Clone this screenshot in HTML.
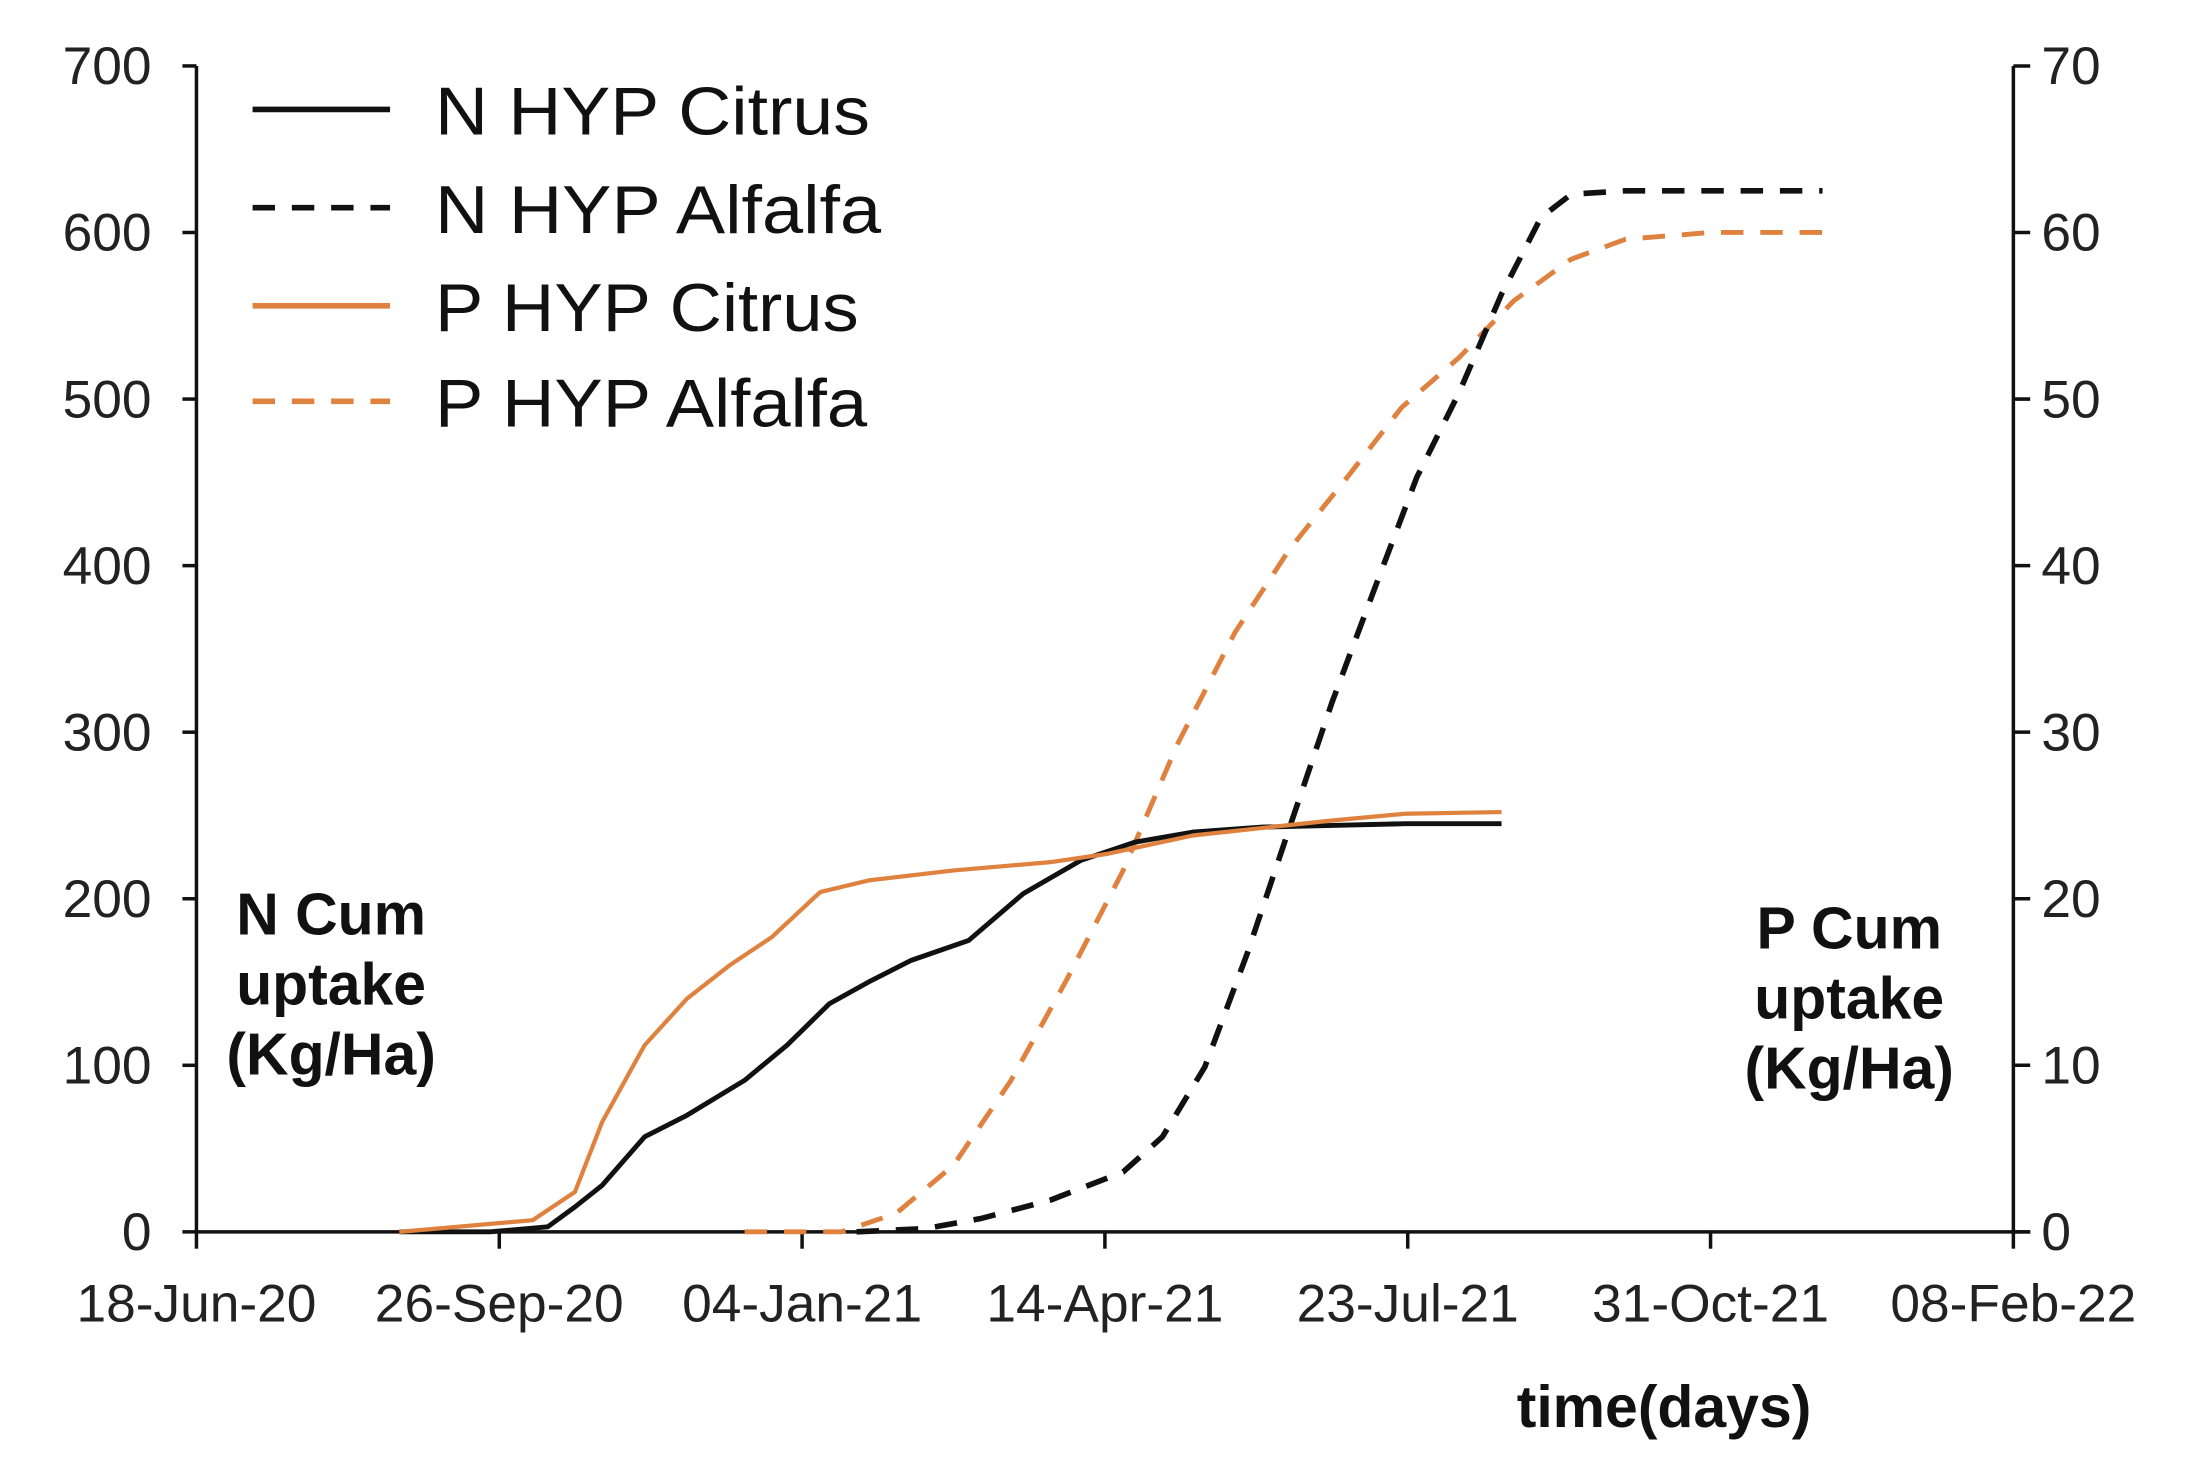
<!DOCTYPE html>
<html><head><meta charset="utf-8"><style>
html,body{margin:0;padding:0;background:#fff;}
svg{display:block;}
text{font-family:"Liberation Sans",Arial,sans-serif;}
</style></head><body>
<svg id="chart" xmlns="http://www.w3.org/2000/svg" width="2200" height="1475" viewBox="0 0 1568 1051.3">
<rect width="1568" height="1051.3" fill="#fff"/>
<g id="axes"></g>
<g id="series"></g>
<g id="legend"></g>
<text font-weight="bold" font-size="42" text-anchor="middle" fill="#111"><tspan x="236" y="666">N Cum</tspan><tspan x="236" y="716">uptake</tspan><tspan x="236" y="766">(Kg/Ha)</tspan></text>
<text font-weight="bold" font-size="42" text-anchor="middle" fill="#111"><tspan x="1318" y="676">P Cum</tspan><tspan x="1318" y="726">uptake</tspan><tspan x="1318" y="776">(Kg/Ha)</tspan></text>
<text font-weight="bold" font-size="42" text-anchor="middle" x="1186" y="1017" fill="#111">time(days)</text>
</svg>
<script>
// days since 18-Jun-20
const xTickLabels = ["18-Jun-20","26-Sep-20","04-Jan-21","14-Apr-21","23-Jul-21","31-Oct-21","08-Feb-22"];
const leftTicks = [0,100,200,300,400,500,600,700];
const rightTicks = [0,10,20,30,40,50,60,70];
const seriesNames = ["N HYP Citrus","N HYP Alfalfa","P HYP Citrus","P HYP Alfalfa"];
const nCitrusDays = [67,97,116,125,134,148,162,181,195,209,222,236,255,273,292,310,329,352,375,399,431];
const nCitrusVals = [0,0,3,15,28,57,70,91,112,137,150,163,175,203,223,234,240,243,244,245,245];
const pCitrusDays = [67,111,125,134,148,162,176,190,206,222,250,282,301,329,375,399,431];
const pCitrusVals = [0,0.7,2.4,6.6,11.2,14,16,17.7,20.4,21.1,21.7,22.2,22.7,23.8,24.7,25.1,25.2];
const nAlfalfaDays = [218,241,259,282,306,319,333,347,361,375,389,403,417,431,444,454,472,537];
const nAlfalfaVals = [0,2,8,19,36,57,99,167,243,318,386,453,504,563,609,623,625,625];
const pAlfalfaDays = [181,213,231,250,269,287,306,324,343,361,380,398,417,435,454,472,500,537];
const pAlfalfaVals = [0,0,1.1,4,9.1,15,21.7,29.3,36,41,45.3,49.5,52.5,55.9,58.4,59.6,60,60];

const X0=140, X1=1435, Y0=878, Y1=47;
const xScale = d => X0 + d*(X1-X0)/600;
const yL = v => Y0 - v*(Y0-Y1)/700;
const yR = v => Y0 - v*(Y0-Y1)/70;
const NS="http://www.w3.org/2000/svg";
function mk(tag, attrs, parent){const e=document.createElementNS(NS,tag);for(const k in attrs)e.setAttribute(k,attrs[k]);parent.appendChild(e);return e;}
const axes=document.getElementById('axes');
let e;
e=mk('line',{x1:X0,y1:Y1,x2:X0,y2:Y0,stroke:'#111','stroke-width':2.5},axes);


e=mk('line',{x1:X1,y1:Y1,x2:X1,y2:Y0,stroke:'#111','stroke-width':2.5},axes);


e=mk('line',{x1:X0,y1:Y0,x2:X1+12,y2:Y0,stroke:'#111','stroke-width':2.5},axes);


leftTicks.forEach(v=>{
  mk('line',{x1:X0-10,y1:yL(v),x2:X0,y2:yL(v),stroke:'#111','stroke-width':2.5},axes);
  const t=mk('text',{x:X0-32,y:yL(v)+13,'font-size':38,'text-anchor':'end',fill:'#222'},axes);t.textContent=v;
  
  
});
rightTicks.forEach(v=>{
  mk('line',{x1:X1,y1:yR(v),x2:X1+12,y2:yR(v),stroke:'#111','stroke-width':2.5},axes);
  const t=mk('text',{x:X1+20,y:yR(v)+13,'font-size':38,'text-anchor':'start',fill:'#222'},axes);t.textContent=v;
  
  
});
xTickLabels.forEach((l,i)=>{
  const x=xScale(i*100);
  mk('line',{x1:x,y1:Y0,x2:x,y2:Y0+12,stroke:'#111','stroke-width':2.5},axes);
  const t=mk('text',{x:x,y:942,'font-size':38,'text-anchor':'middle',fill:'#222'},axes);t.textContent=l;
  
  
});
const ser=document.getElementById('series');
const orange='#e0823f';
function path(days, vals, ys){return days.map((d,i)=>(i?'L':'M')+xScale(d).toFixed(1)+' '+ys(vals[i]).toFixed(1)).join(' ');}
e=mk('path',{d:path(pAlfalfaDays,pAlfalfaVals,yR),fill:'none',stroke:orange,'stroke-width':3.5,'stroke-dasharray':'16 12'},ser);


e=mk('path',{d:path(nAlfalfaDays,nAlfalfaVals,yL),fill:'none',stroke:'#111','stroke-width':4,'stroke-dasharray':'16 12'},ser);


e=mk('path',{d:path(nCitrusDays,nCitrusVals,yL),fill:'none',stroke:'#111','stroke-width':3.5,'stroke-linejoin':'round'},ser);


e=mk('path',{d:path(pCitrusDays,pCitrusVals,yR),fill:'none',stroke:orange,'stroke-width':3,'stroke-linejoin':'round'},ser);


const lg=document.getElementById('legend');
const lstyles=[['#111',''],['#111','16 12'],[orange,''],[orange,'16 12']];
const lwidths=[310,318,302,308];
seriesNames.forEach((n,i)=>{
  const y=[78,148,218,286][i];
  const g=mk('g',{},lg);
  
  
  const a={x1:180,y1:y,x2:278,y2:y,stroke:lstyles[i][0],'stroke-width':4};
  if(lstyles[i][1])a['stroke-dasharray']=lstyles[i][1];
  mk('line',a,g);
  const t=mk('text',{x:310,y:y+18,'font-size':48,fill:'#111',textLength:lwidths[i],lengthAdjust:'spacingAndGlyphs'},g);t.textContent=n;
});
</script>
</body></html>
